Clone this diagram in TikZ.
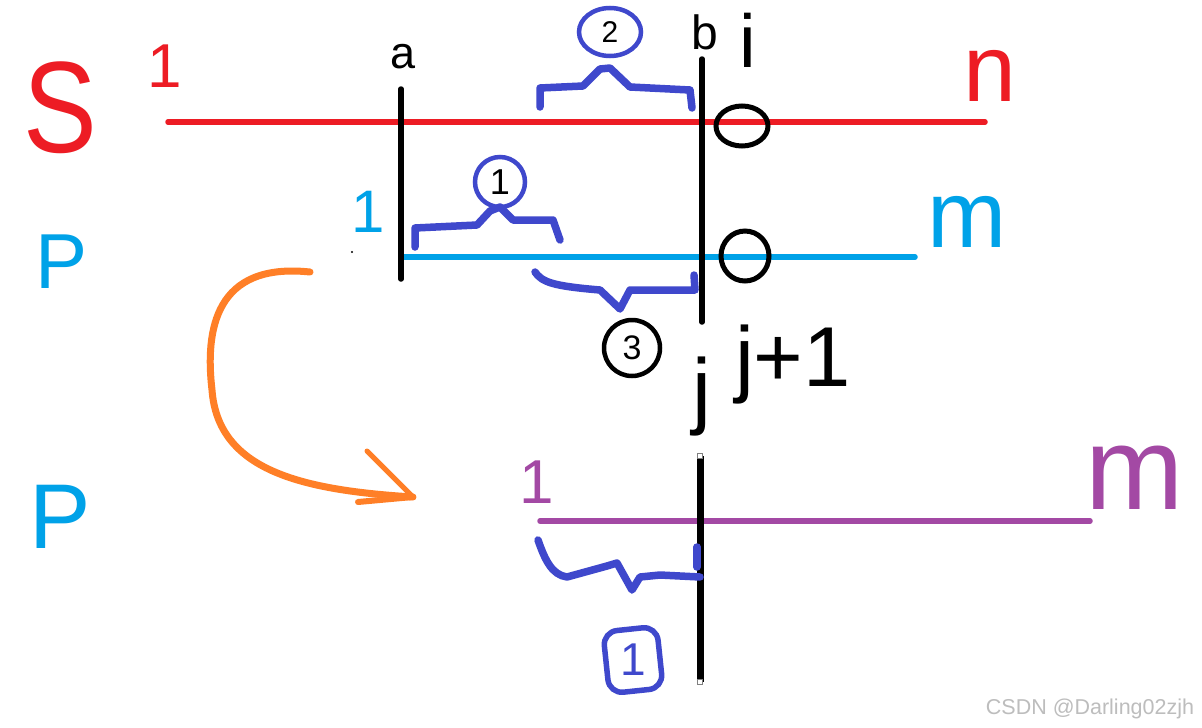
\documentclass[tikz,border=0pt]{standalone}
\usepackage{fontspec}
\setmainfont{Liberation Sans}
\definecolor{pred}{HTML}{ED1C24}
\definecolor{pblue}{HTML}{00A2E8}
\definecolor{ppurple}{HTML}{A349A4}
\definecolor{pbrace}{HTML}{3F48CC}
\definecolor{porange}{HTML}{FF7F27}
\definecolor{wm}{HTML}{BDBDBD}
\tikzset{
  txt/.style={inner sep=0pt, outer sep=0pt},
  fs/.style={font=\fontsize{#1}{#1}\selectfont},
  seqline/.style={line width=5.5pt, line cap=round},
  bar/.style={line width=5.5pt, line cap=round, black},
  bracestroke/.style={line width=7.5pt, pbrace, line join=round, line cap=round},
  ring/.style={draw, line width=5pt, inner sep=0pt, ellipse},
}
\usetikzlibrary{shapes.geometric}
\begin{document}
\begin{tikzpicture}[x=1pt,y=-1pt]
\useasboundingbox (0,0) rectangle (1202,728);
\fill[white] (0,0) rectangle (1202,728);

% ---- S row (red) ----
\node[txt, fs=130, text=pred, xscale=0.85] (S) at (60,108) {S};
\node[txt, fs=62, text=pred] (s1) at (165,66) {1};
\node[txt, fs=95, text=pred] (sn) at (990,76) {n};
\coordinate (sL) at (168,122);
\coordinate (sR) at (985,122);
\draw[seqline, pred] (sL) -- (sR);

% ---- P row (blue) ----
\node[txt, fs=78, text=pblue] (P1) at (62,262) {P};
\node[txt, fs=60, text=pblue] (p1) at (368,212) {1};
\node[txt, fs=95, text=pblue] (pm) at (967,222) {m};
\coordinate (pL) at (403,257);
\coordinate (pR) at (915,257);
\draw[seqline, pblue] (pL) -- (pR);

% ---- verticals a and b ----
\node[txt, fs=45] (la) at (403,57) {a};
\node[txt, fs=48] (lb) at (705,32) {b};
\coordinate (aT) at (401,89);
\coordinate (aB) at (401,279);
\coordinate (bT) at (702,59);
\coordinate (bB) at (702,322);
\draw[bar] (aT) -- (aB);
\draw[bar] (bT) -- (bB);
\fill (352,252) circle (1.2pt);

% ---- i, j, j+1 ----
\node[txt, fs=75] (li) at (748,40) {i};
\node[txt, fs=85] (lj) at (702,397) {j};
\node[txt, fs=85] (lj1) at (793,365) {j+1};

% ---- black rings ----
\node[ring, minimum width=52pt, minimum height=40pt] (r1) at (742,126) {};
\node[ring, minimum width=48pt, minimum height=50pt] (r2) at (745,256) {};

% ---- brace 2 ----
\draw[bracestroke] (540,107) -- (540,88) -- (583,86) -- (600,69) -- (610,68) -- (630,87) -- (690,90) -- (692,108);
\node[draw=pbrace, line width=4.5pt, ellipse, minimum width=62pt, minimum height=48pt, inner sep=0pt] (c2) at (610,32) {};
\node[txt, fs=30] (n2) at (c2.center) {2};

% ---- brace 1 ----
\draw[bracestroke] (415,247) -- (415,228) -- (477,225) -- (490,211) -- (500,207) -- (513,220) -- (553,220) -- (560,240);
\node[draw=pbrace, line width=4.5pt, circle, minimum size=50pt, inner sep=0pt] (c1) at (500,182) {};
\node[txt, fs=36] (n1) at (c1.center) {1};

% ---- brace 3 ----
\draw[bracestroke] (535,272) .. controls (542,282) and (552,286) .. (600,290) -- (620,309) -- (630,290) -- (695,290) -- (694,275);
\node[draw, line width=4.5pt, circle, minimum size=56pt, inner sep=0pt] (c3) at (632,348) {};
\node[txt, fs=34] (n3) at (c3.center) {3};

% ---- orange arrow ----
\coordinate (oS) at (310,272);
\coordinate (oT) at (413,497);
\draw[porange, line width=7pt, line cap=round] (oS) .. controls (215,262) and (205,330) .. (212,390)
  .. controls (218,470) and (300,490) .. (oT);
\draw[porange, line width=5pt, line cap=round] (367,451) -- (oT);
\draw[porange, line width=6pt, line cap=round] (358,502) -- (oT);

% ---- bottom P row (purple) ----
\node[txt, fs=92, text=pblue] (P2) at (60,517) {P};
\node[txt, fs=62, text=ppurple] (q1) at (537,482) {1};
\node[txt, fs=118, text=ppurple] (qm) at (1135,478) {m};
\coordinate (qL) at (540,521);
\coordinate (qR) at (1090,521);
\draw[seqline, ppurple] (qL) -- (qR);
\coordinate (jT) at (700,456);
\coordinate (jB) at (700,682);
\draw[line width=7pt, black] (jT) -- (jB);
\draw[fill=white, draw=gray, line width=0.6pt] (697.5,453.5) rectangle (702.5,458.5);
\draw[fill=white, draw=gray, line width=0.6pt] (697.5,679.5) rectangle (702.5,684.5);

% ---- brace 0 ----
\draw[bracestroke] (538,540) .. controls (545,560) and (552,575) .. (567,577) -- (607,566) -- (617,563) -- (632,590) -- (640,577) -- (660,575) -- (700,577);
\draw[bracestroke] (697,547) -- (697,567);
\node[draw=pbrace, line width=5.5pt, rounded corners=14pt, rectangle, minimum width=54pt, minimum height=62pt, inner sep=0pt, rotate=6] (c0) at (633,660) {};
\node[txt, fs=46, text=pbrace] (n0) at (c0.center) {1};

% ---- watermark ----
\node[txt, fs=21.5, text=wm] (wmk) at (1090,709) {CSDN @Darling02zjh};
\end{tikzpicture}
\end{document}
